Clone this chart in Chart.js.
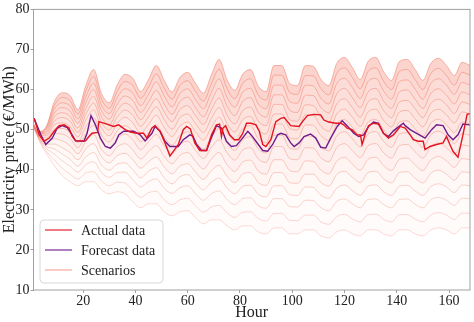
<!DOCTYPE html>
<html lang="en">
<head>
<meta charset="UTF-8">
<title>Electricity price scenarios</title>
<script src="https://cdn.jsdelivr.net/npm/chart.js"></script>
<style>
  body { margin: 0; background: #fff; }
  #wrap { width: 474px; height: 322px; }
</style>
</head>
<body>
<div id="wrap"><canvas id="priceChart" width="474" height="322"></canvas></div>
<script>
// ---- data ----
const xTicks = [20, 40, 60, 80, 100, 120, 140, 160];
const yTicks = [10, 20, 30, 40, 50, 60, 70, 80];

const actualHours = [0, 1.3, 3.2, 5, 7, 8.9, 10.8, 12.7, 14.6, 15.8, 17.1, 20.9, 22.2, 23.4, 25.5, 26, 29.1, 31.7, 33.6, 36.1, 38, 40.5, 43.1, 44.4, 46.3, 47.5, 49.4, 51.3, 53.2, 54.5, 56.4, 58.3, 59.6, 61, 62.7, 64.6, 67.2, 69.1, 71, 72.2, 72.9, 73.5, 74.5, 76, 77.9, 79.5, 81, 82.5, 84.2, 86.1, 87.4, 88.7, 89.9, 91.8, 93.7, 95.6, 96.9, 98.2, 99.4, 102.6, 103.9, 105.8, 108.3, 110.9, 112.1, 114, 116.6, 118.5, 119.7, 121, 122.9, 124.8, 126.1, 126.7, 128, 129.2, 131.1, 133, 134.9, 136.8, 138.7, 141.3, 143.2, 145.1, 146.3, 148.2, 150.1, 150.8, 152.7, 155.2, 157.7, 159, 160.3, 161.5, 163.4, 165.3, 166.9, 168];
const actualPrice = [53, 52.7, 48.7, 47.1, 47.9, 49.6, 51, 51.2, 50.4, 48.3, 47.2, 47.2, 48.3, 49.1, 49.3, 52, 51.4, 50.8, 51.2, 50, 49.4, 49.1, 49.1, 47.9, 50.4, 51, 49.6, 46.7, 43.4, 44.6, 46.3, 50, 50.8, 50.2, 46.7, 44.8, 44.8, 48.7, 51.2, 51.4, 48.3, 50.4, 51, 48.7, 47.5, 47.5, 49, 51.6, 51.6, 51.2, 49.6, 46.3, 45.8, 47.5, 52, 52.8, 53, 52, 51, 50.8, 52, 53.5, 53.8, 53.7, 52.4, 51.9, 51.6, 51.6, 51.2, 50.4, 50, 48.7, 48.7, 46.3, 49.1, 51, 51.6, 51.4, 49.1, 47.9, 48.7, 50.8, 50.4, 48.7, 47.5, 47.1, 47.1, 45, 45.8, 46.3, 46.7, 48.3, 46.3, 44.6, 43.1, 48.7, 53.8, 54];

const forecastHours = [0, 1.3, 3.8, 5.7, 8.2, 10.1, 12, 13.9, 15.8, 17.1, 20.3, 21.5, 23, 24.7, 26.6, 28.5, 30.4, 32.3, 33.6, 35.5, 39.3, 41.8, 43.7, 46.3, 47.5, 49.4, 51.3, 53.2, 56.4, 58.3, 60.8, 62, 63.4, 65.3, 67.2, 69.5, 71, 72.9, 74.8, 76.7, 78.6, 80.5, 83, 84.5, 86.1, 88.7, 90.6, 92.5, 94.4, 95.6, 97.5, 99.4, 100.7, 102.6, 104.5, 107, 109, 110.9, 112.8, 114.7, 117.2, 119.1, 121, 123.5, 125.4, 127.3, 129.2, 131.1, 133, 134.9, 136.8, 138.7, 141.3, 142.5, 143.2, 145.1, 147.6, 150.8, 153.3, 155.2, 157.7, 159.6, 161.5, 163.4, 165.3, 168];
const forecastPrice = [53, 52.7, 48.7, 46.3, 47.9, 50.4, 51, 50.5, 48.7, 47.2, 47.1, 49.1, 53.5, 51.2, 47.9, 45.8, 45.4, 46.7, 48.7, 49.6, 49.6, 48.7, 47.2, 49.1, 50.8, 49.6, 47.1, 45.8, 45.8, 47.5, 48.7, 48.4, 46.3, 44.8, 44.8, 48.7, 51, 50.4, 47.1, 45.8, 46, 47.5, 49.6, 48.5, 47.1, 44.8, 44.6, 46.3, 48.7, 49.1, 48.7, 46.7, 45.8, 46.7, 48.3, 48.9, 47.9, 45.6, 45.4, 47.9, 50.8, 52.2, 51, 49.1, 48.3, 48.7, 50.8, 51.9, 51.6, 49.1, 48.3, 49.7, 51, 51.6, 51, 50, 49.1, 47.9, 50, 51.2, 51, 48.7, 47.5, 48.7, 51.4, 51.2];

// scenario paths, sampled every 3 hours
const scenarioHours = [0, 3, 6, 9, 12, 15, 18, 21, 24, 27, 30, 33, 36, 39, 42, 45, 48, 51, 54, 57, 60, 63, 66, 69, 72, 75, 78, 81, 84, 87, 90, 93, 96, 99, 102, 105, 108, 111, 114, 117, 120, 123, 126, 129, 132, 135, 138, 141, 144, 147, 150, 153, 156, 159, 162, 165, 168];
const scen01 = [52.8, 49.5, 51, 57, 59.2, 58.5, 55, 61, 65, 59, 56.7, 61.1, 63.8, 62.8, 59.5, 62.5, 66, 62.3, 59.4, 63, 64.3, 61.5, 59.1, 63.5, 67.5, 62.5, 59.8, 63.8, 65, 60.8, 59.5, 66, 66, 61.5, 61, 66, 65.8, 62.5, 61, 66.5, 68, 65.5, 62.5, 67, 68, 64.4, 62.3, 67, 67.5, 65, 62.3, 66.5, 67.8, 66, 63.5, 66.8, 66];
const scen02 = [52.8, 49.4, 50.6, 56.0, 58.0, 57.2, 53.9, 59.6, 63.3, 57.6, 55.3, 59.5, 62.0, 61.0, 57.8, 60.6, 63.9, 60.3, 57.6, 61.0, 62.2, 59.5, 57.1, 61.3, 65.1, 60.3, 57.7, 61.5, 62.7, 58.6, 57.4, 63.6, 63.6, 59.3, 58.8, 63.5, 63.4, 60.2, 58.7, 64.0, 65.4, 63.0, 60.2, 64.5, 65.4, 62.0, 60.0, 64.5, 65.0, 62.5, 60.0, 64.0, 65.3, 63.5, 61.1, 64.3, 63.6];
const scen03 = [52.8, 49.3, 50.2, 55.1, 56.7, 55.9, 52.7, 58.1, 61.6, 56.1, 54.0, 57.9, 60.2, 59.1, 56.0, 58.8, 61.9, 58.4, 55.7, 59.0, 60.2, 57.5, 55.2, 59.2, 62.7, 58.1, 55.6, 59.3, 60.3, 56.4, 55.2, 61.1, 61.1, 57.0, 56.6, 61.1, 60.9, 57.8, 56.4, 61.5, 62.8, 60.5, 57.8, 62.0, 62.8, 59.6, 57.6, 62.0, 62.4, 60.1, 57.6, 61.5, 62.7, 61.1, 58.8, 61.8, 61.1];
const scen04 = [52.7, 49.1, 49.7, 54.1, 55.5, 54.6, 51.6, 56.7, 60.0, 54.7, 52.6, 56.3, 58.4, 57.3, 54.3, 56.9, 59.8, 56.4, 53.8, 57.0, 58.1, 55.5, 53.2, 57.0, 60.3, 55.9, 53.5, 57.0, 58.0, 54.3, 53.1, 58.7, 58.7, 54.8, 54.3, 58.6, 58.5, 55.5, 54.2, 58.9, 60.3, 58.0, 55.5, 59.4, 60.3, 57.1, 55.3, 59.4, 59.9, 57.6, 55.3, 59.0, 60.2, 58.6, 56.4, 59.4, 58.7];
const scen05 = [52.7, 49.0, 49.3, 53.2, 54.2, 53.3, 50.4, 55.2, 58.3, 53.2, 51.2, 54.7, 56.6, 55.4, 52.5, 55.1, 57.7, 54.4, 52.0, 55.0, 56.0, 53.5, 51.3, 54.9, 57.9, 53.7, 51.4, 54.7, 55.6, 52.1, 51.0, 56.3, 56.3, 52.5, 52.1, 56.2, 56.0, 53.1, 51.9, 56.4, 57.7, 55.5, 53.1, 56.9, 57.7, 54.7, 53.0, 56.9, 57.3, 55.2, 53.0, 56.5, 57.6, 56.2, 54.0, 56.9, 56.3];
const scen06 = [52.7, 48.9, 48.9, 52.2, 53.0, 52.1, 49.3, 53.8, 56.6, 51.8, 49.9, 53.1, 54.9, 53.6, 50.8, 53.2, 55.7, 52.5, 50.1, 53.0, 53.9, 51.5, 49.3, 52.7, 55.5, 51.6, 49.4, 52.5, 53.3, 49.9, 48.9, 53.9, 53.9, 50.3, 49.9, 53.7, 53.6, 50.8, 49.6, 53.9, 55.1, 53.1, 50.8, 54.4, 55.1, 52.3, 50.7, 54.4, 54.8, 52.7, 50.7, 54.1, 55.1, 53.7, 51.7, 54.4, 53.9];
const scen07 = [52.7, 48.8, 48.5, 51.2, 51.7, 50.8, 48.2, 52.4, 54.9, 50.4, 48.5, 51.5, 53.1, 51.7, 49.1, 51.3, 53.6, 50.5, 48.3, 50.9, 51.9, 49.4, 47.4, 50.5, 53.1, 49.4, 47.3, 50.2, 51.0, 47.7, 46.7, 51.4, 51.4, 48.0, 47.7, 51.2, 51.1, 48.5, 47.3, 51.4, 52.5, 50.6, 48.5, 51.9, 52.5, 49.9, 48.3, 51.9, 52.2, 50.2, 48.3, 51.6, 52.6, 51.2, 49.3, 51.9, 51.4];
const scen08 = [52.7, 48.6, 48.0, 50.1, 50.3, 49.3, 46.8, 50.7, 53.0, 48.7, 46.9, 49.7, 51.0, 49.6, 47.0, 49.2, 51.2, 48.2, 46.1, 48.6, 49.5, 47.1, 45.1, 48.0, 50.3, 46.8, 44.8, 47.5, 48.2, 45.2, 44.2, 48.6, 48.6, 45.4, 45.1, 48.4, 48.3, 45.7, 44.7, 48.4, 49.5, 47.7, 45.7, 48.9, 49.5, 47.0, 45.6, 48.9, 49.2, 47.4, 45.6, 48.7, 49.6, 48.4, 46.5, 49.0, 48.6];
const scen09 = [52.7, 48.5, 47.5, 49.0, 48.9, 47.8, 45.5, 49.0, 51.0, 47.0, 45.4, 47.8, 48.9, 47.4, 45.0, 47.0, 48.8, 45.9, 44.0, 46.3, 47.1, 44.8, 42.8, 45.5, 47.5, 44.3, 42.4, 44.9, 45.5, 42.7, 41.8, 45.8, 45.8, 42.8, 42.5, 45.5, 45.4, 43.0, 42.0, 45.5, 46.5, 44.8, 43.0, 46.0, 46.5, 44.2, 42.9, 46.0, 46.3, 44.5, 42.9, 45.8, 46.7, 45.5, 43.8, 46.2, 45.8];
const scen10 = [52.6, 48.3, 46.9, 47.7, 47.2, 46.0, 44.0, 47.1, 48.8, 45.1, 43.5, 45.7, 46.5, 44.9, 42.7, 44.5, 46.0, 43.3, 41.5, 43.6, 44.3, 42.1, 40.2, 42.6, 44.3, 41.3, 39.6, 41.9, 42.4, 39.7, 38.9, 42.5, 42.5, 39.8, 39.5, 42.2, 42.1, 39.9, 39.0, 42.1, 43.1, 41.4, 39.9, 42.6, 43.1, 41.0, 39.8, 42.6, 42.9, 41.2, 39.8, 42.4, 43.3, 42.2, 40.6, 42.8, 42.5];
const scen11 = [52.6, 48.2, 46.4, 46.4, 45.5, 44.3, 42.5, 45.2, 46.5, 43.2, 41.7, 43.5, 44.1, 42.5, 40.4, 42.0, 43.2, 40.7, 39.0, 40.9, 41.5, 39.4, 37.6, 39.7, 41.1, 38.4, 36.8, 38.9, 39.3, 36.8, 36.1, 39.3, 39.3, 36.8, 36.6, 38.9, 38.9, 36.8, 35.9, 38.8, 39.6, 38.1, 36.8, 39.3, 39.6, 37.7, 36.7, 39.3, 39.5, 37.9, 36.7, 39.1, 39.9, 38.9, 37.4, 39.5, 39.3];
const scen12 = [52.6, 48.0, 45.8, 45.2, 43.9, 42.6, 40.9, 43.2, 44.3, 41.2, 39.9, 41.4, 41.7, 40.0, 38.0, 39.6, 40.5, 38.0, 36.5, 38.2, 38.8, 36.7, 35.0, 36.9, 37.9, 35.5, 34.0, 35.8, 36.1, 33.9, 33.2, 36.0, 36.0, 33.8, 33.6, 35.7, 35.6, 33.6, 32.9, 35.4, 36.2, 34.8, 33.6, 35.9, 36.2, 34.5, 33.6, 35.9, 36.1, 34.7, 33.6, 35.8, 36.5, 35.7, 34.3, 36.2, 36.0];
const scen13 = [52.6, 47.9, 45.3, 43.9, 42.2, 40.9, 39.4, 41.3, 42.0, 39.3, 38.1, 39.3, 39.4, 37.5, 35.7, 37.1, 37.7, 35.4, 34.1, 35.5, 36.0, 34.0, 32.4, 34.0, 34.7, 32.6, 31.3, 32.8, 33.0, 31.0, 30.4, 32.8, 32.8, 30.8, 30.7, 32.4, 32.3, 30.5, 29.8, 32.1, 32.7, 31.5, 30.5, 32.6, 32.7, 31.3, 30.5, 32.6, 32.7, 31.4, 30.5, 32.5, 33.1, 32.4, 31.1, 32.9, 32.8];
const scen14 = [52.5, 47.7, 44.6, 42.4, 40.4, 38.9, 37.7, 39.2, 39.5, 37.2, 36.0, 36.9, 36.7, 34.8, 33.1, 34.3, 34.6, 32.5, 31.3, 32.5, 32.9, 31.0, 29.4, 30.7, 31.1, 29.3, 28.1, 29.4, 29.5, 27.8, 27.2, 29.1, 29.1, 27.4, 27.3, 28.7, 28.7, 27.0, 26.4, 28.3, 28.9, 27.7, 27.0, 28.8, 28.9, 27.6, 27.0, 28.8, 28.8, 27.7, 27.0, 28.7, 29.3, 28.7, 27.6, 29.2, 29.1];
const scen15 = [52.5, 47.5, 44, 41, 38.5, 37, 36, 37, 37, 35, 34, 34.5, 34, 32, 30.5, 31.5, 31.5, 29.5, 28.5, 29.5, 29.8, 28, 26.5, 27.5, 27.5, 26, 25, 26, 26, 24.5, 24, 25.5, 25.5, 24, 24, 25, 25, 23.5, 23, 24.5, 25, 24, 23.5, 25, 25, 24, 23.5, 25, 25, 24, 23.5, 25, 25.5, 25, 24, 25.5, 25.5];
const scenarios = [scen01, scen02, scen03, scen04, scen05, scen06, scen07, scen08, scen09, scen10, scen11, scen12, scen13, scen14, scen15];

const RED = 'rgb(228, 20, 32)';
const PURPLE = 'rgb(112, 28, 140)';
const FONT = '"Liberation Serif", "Times New Roman", serif';

function toPoints(hours, values) {
    return hours.map((h, i) => ({ x: h, y: values[i] }));
}

let datasets = [
    { label: 'Actual data', data: toPoints(actualHours, actualPrice), borderColor: RED, borderWidth: 1.4, pointRadius: 0, tension: 0, fill: false },
    { label: 'Forecast data', data: toPoints(forecastHours, forecastPrice), borderColor: PURPLE, borderWidth: 1.4, pointRadius: 0, tension: 0, fill: false }
];
scenarios.forEach((s, i) => {
    let a = 0.52 - i * 0.018;
    let band = Math.max(0.03, 0.34 - i * 0.028);   // light wash between neighbouring scenarios, fading downwards
    datasets.push({
        label: 'Scenarios',
        data: toPoints(scenarioHours, s),
        borderColor: 'rgba(242, 118, 98, ' + a + ')',
        backgroundColor: 'rgba(244, 130, 110, ' + band + ')',
        fill: i < scenarios.length - 1 ? '+1' : false,
        borderWidth: 1,
        pointRadius: 0,
        cubicInterpolationMode: 'monotone'
    });
});

// box around plot area (top / right spines too)
let framePlugin = {
    id: 'framePlugin',
    afterDraw(chart) {
        let { ctx, chartArea: a } = chart;
        ctx.save();
        ctx.strokeStyle = '#a0a0a0';
        ctx.lineWidth = 1;
        ctx.strokeRect(a.left, a.top, a.right - a.left, a.bottom - a.top);
        ctx.restore();
    }
};

// legend box in lower-left corner of the plot
let legendPlugin = {
    id: 'legendPlugin',
    afterDraw(chart) {
        let { ctx, chartArea: a } = chart;
        let x = a.left + 6.5, y = a.bottom - 70, w = 123, h = 63;
        ctx.save();
        ctx.beginPath();
        ctx.roundRect(x, y, w, h, 4);
        ctx.fillStyle = 'rgba(255,255,255,0.85)';
        ctx.fill();
        ctx.strokeStyle = '#d8d8d8';
        ctx.lineWidth = 1;
        ctx.stroke();
        let items = [
            { text: chart.data.datasets[0].label, color: 'rgba(228, 20, 32, 0.75)' },
            { text: chart.data.datasets[1].label, color: 'rgba(112, 28, 140, 0.75)' },
            { text: chart.data.datasets[2].label, color: 'rgba(244, 120, 100, 0.5)' }
        ];
        ctx.font = '14px ' + FONT;
        ctx.textBaseline = 'middle';
        items.forEach((it, i) => {
            let cy = y + 10 + i * 20;
            ctx.strokeStyle = it.color;
            ctx.lineWidth = 1.5;
            ctx.beginPath();
            ctx.moveTo(x + 5, cy);
            ctx.lineTo(x + 32, cy);
            ctx.stroke();
            ctx.fillStyle = '#222';
            ctx.fillText(it.text, x + 41, cy + 1);
        });
        ctx.restore();
    }
};

let chart = new Chart(document.getElementById('priceChart'), {
    type: 'line',
    data: { datasets: datasets },
    options: {
        responsive: false,
        animation: false,
        layout: { padding: { top: 7, right: 4, left: 0, bottom: 0 } },
        plugins: { legend: { display: false }, tooltip: { enabled: false }, filler: { propagate: false } },
        scales: {
            x: {
                type: 'linear',
                min: 1,
                max: 168,
                afterBuildTicks: axis => { axis.ticks = xTicks.map(v => ({ value: v })); },
                afterFit: axis => { axis.height = 32; },
                grid: { drawOnChartArea: false, drawTicks: true, tickLength: 3, color: '#a0a0a0' },
                border: { display: false },
                ticks: { color: '#222', font: { family: FONT, size: 14 }, padding: 0, maxRotation: 0 },
                title: { display: true, text: 'Hour', color: '#222', font: { family: FONT, size: 16 }, padding: 0 }
            },
            y: {
                min: 10,
                max: 80,
                afterBuildTicks: axis => { axis.ticks = yTicks.map(v => ({ value: v })); },
                afterFit: axis => { axis.width = 33.5; },
                grid: { drawOnChartArea: false, drawTicks: true, tickLength: 3, color: '#a0a0a0' },
                border: { display: false },
                ticks: { color: '#222', font: { family: FONT, size: 14 }, padding: 1 },
                title: { display: true, text: 'Electricity price (€/MWh)', color: '#222', font: { family: FONT, size: 16 }, padding: 0 }
            }
        }
    },
    plugins: [framePlugin, legendPlugin]
});
</script>
</body>
</html>
